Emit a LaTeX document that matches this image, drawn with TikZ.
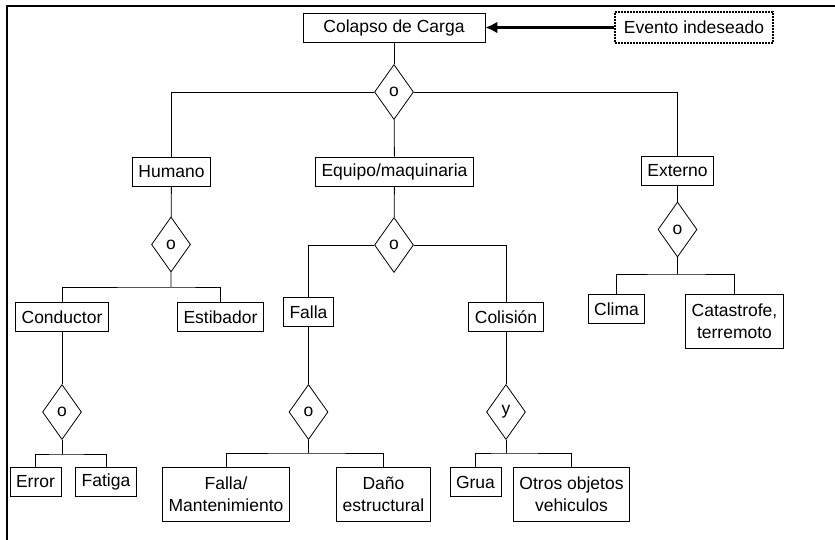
\documentclass[tikz,border=0pt]{standalone}
\usepackage{fontspec}
\setmainfont{Liberation Sans}
\usepackage{tikz}
\usetikzlibrary{positioning,arrows.meta,shapes.geometric}

\begin{document}
\begin{tikzpicture}[x=1pt,y=-1pt,
		caja/.style={draw,line width=0.8pt,minimum height=29pt,inner xsep=6pt,inner ysep=4pt,align=center},
		dos/.style={minimum height=54pt},
		rombo/.style={draw,line width=0.8pt,shape=diamond,minimum width=39pt,minimum height=55pt,inner sep=0pt},
		rama/.style={line width=0.8pt},
		font=\fontsize{17.5}{22}\selectfont]
	\useasboundingbox (0,0) rectangle (835,540);
	\draw[line width=2.5pt] (7,540) -- (7,6) -- (835,6);

	% evento principal
	\node[caja,minimum width=182pt] (colapso) at (394,27.5) {Colapso de Carga};
	\node[caja,minimum width=158pt,minimum height=31pt,dash pattern=on 2pt off 1pt,line width=1.2pt] (evento) at (694,27.5) {Evento indeseado};
	\draw[line width=3pt,-{Latex[length=12pt,width=12pt]}] (evento) -- (colapso);
	\node[rombo] (d0) at (394,92) {o};
	\draw[rama] (colapso) -- (d0);

	% primer nivel
	\node[caja] (humano) at (171.5,171.5) {Humano};
	\node[caja] (equipo) at (394.5,171.5) {Equipo/maquinaria};
	\node[caja] (externo) at (677.5,170.5) {Externo};
	\draw[rama] (d0) -- (equipo);
	\draw[rama] (d0.west) -| (humano);
	\draw[rama] (d0.east) -| (externo);

	% humano
	\node[rombo] (dh) at (171,244.5) {o};
	\coordinate (bh) at (171,287);
	\node[caja] (conductor) at (62,317) {Conductor};
	\node[caja] (estibador) at (220.5,317) {Estibador};
	\draw[rama] (humano) -- (dh) -- (bh);
	\draw[rama] (conductor.north) |- (bh) -| (estibador.north);

	\node[rombo] (dc) at (62,412) {o};
	\coordinate (bc) at (62,454);
	\node[caja] (error) at (35.5,482) {Error};
	\node[caja] (fatiga) at (106,482) {Fatiga};
	\draw[rama] (conductor) -- (dc) -- (bc);
	\draw[rama] (error.north) |- (bc) -| (fatiga.north);

	% equipo/maquinaria
	\node[rombo] (de) at (394,245) {o};
	\node[caja] (falla) at (308.5,312) {Falla};
	\node[caja] (colision) at (506,317) {Colisión};
	\draw[rama] (equipo) -- (de);
	\draw[rama] (de.west) -| (falla);
	\draw[rama] (de.east) -| (colision);

	\node[rombo] (df) at (308.5,412) {o};
	\coordinate (bf) at (308.5,453);
	\node[caja,dos] (fallamant) at (226,494) {Falla/\\Mantenimiento};
	\node[caja,dos] (dano) at (383.5,494) {Daño\\estructural};
	\draw[rama] (falla) -- (df) -- (bf);
	\draw[rama] (fallamant.north) |- (bf) -| (dano.north);

	\node[rombo] (dy) at (506,412) {y};
	\coordinate (by) at (506,453);
	\node[caja] (grua) at (475.5,482) {Grua};
	\node[caja,dos] (otros) at (571.5,494) {Otros objetos\\vehiculos};
	\draw[rama] (colision) -- (dy) -- (by);
	\draw[rama] (grua.north) |- (by) -| (otros.north);

	% externo
	\node[rombo] (dx) at (677.5,229.5) {o};
	\coordinate (bx) at (677.5,274);
	\node[caja] (clima) at (616.5,309) {Clima};
	\node[caja,dos] (catastrofe) at (734.5,321) {Catastrofe,\\terremoto};
	\draw[rama] (externo) -- (dx) -- (bx);
	\draw[rama] (clima.north) |- (bx) -| (catastrofe.north);
\end{tikzpicture}
\end{document}
